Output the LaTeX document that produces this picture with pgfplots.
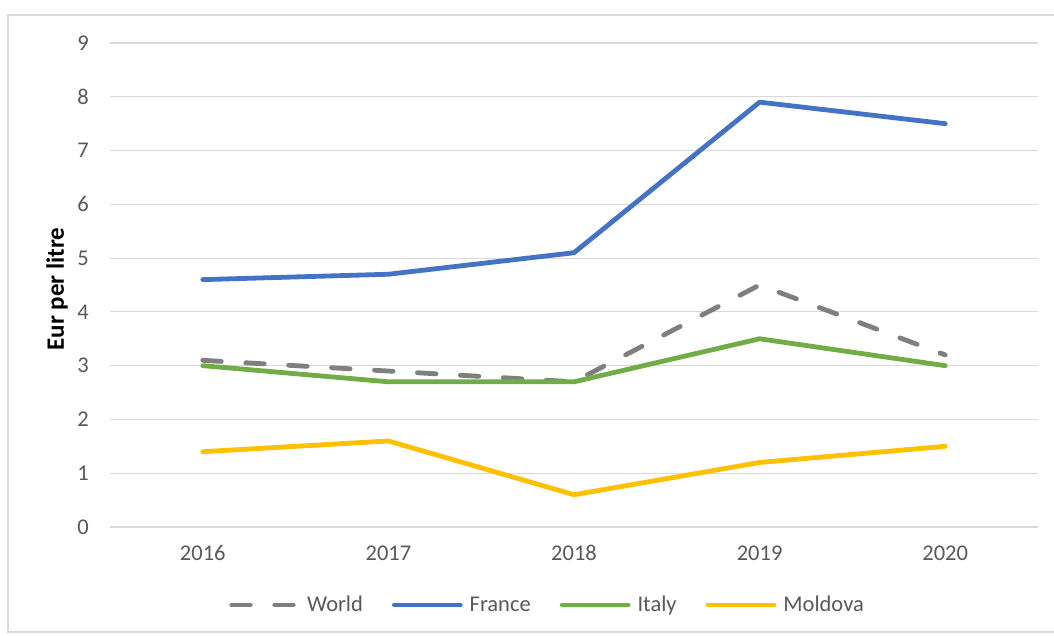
\documentclass[border=0pt]{standalone}
\usepackage{pgfplots}
\pgfplotsset{compat=1.18}
\usepackage{fontspec}
\setmainfont{Carlito}

\definecolor{worldgray}{HTML}{7F7F7F}
\definecolor{franceblue}{HTML}{4472C4}
\definecolor{italygreen}{HTML}{70AD47}
\definecolor{moldovagold}{HTML}{FFC000}
\definecolor{gridgray}{HTML}{D9D9D9}
\definecolor{tickgray}{HTML}{595959}
\definecolor{framegray}{HTML}{D9D9D9}

\begin{document}
\begin{tikzpicture}[x=1pt,y=1pt]
\useasboundingbox (0,0) rectangle (1054,635);
\fill[white] (0,0) rectangle (1054,635);
\draw[framegray, line width=1.2pt] (8,3) rectangle (1070,620);

\begin{axis}[
  at={(110pt,108pt)}, anchor=south west,
  scale only axis, width=928pt, height=484pt,
  xmin=-0.5, xmax=4.5, ymin=0, ymax=9,
  xtick={0,1,2,3,4},
  xticklabels={2016,2017,2018,2019,2020},
  ytick={0,1,...,9},
  ymajorgrids, grid style={gridgray, line width=1.2pt},
  axis line style={draw=none},
  tick style={draw=none},
  /pgf/number format/assume math mode=true,
  ticklabel style={font=\fontsize{22.5}{26}\selectfont, text=tickgray, inner sep=0pt},
  xticklabel style={anchor=center, yshift=-26pt},
  yticklabel style={anchor=east, xshift=-21pt},
  ylabel={\textbf{Eur per litre}},
  ylabel style={font=\fontsize{25}{28}\selectfont, text=black, at={(axis description cs:0,0.492)}, anchor=center, yshift=53pt},
  every axis plot/.append style={line width=4.8pt, line join=round, line cap=round},
  legend columns=4,
  legend style={draw=none, fill=none, at={(axis description cs:0.4705,-0.161)}, anchor=center,
    font=\fontsize{22.5}{26}\selectfont, text=tickgray,
    nodes={inner sep=0pt},
    /tikz/every odd column/.append style={column sep=7pt},
    /tikz/every even column/.append style={column sep=29pt}},
  legend image code/.code={\draw[#1] (0pt,0pt) -- (66pt,0pt);},
]
\addplot[worldgray, dash pattern=on 18.5pt off 24.5pt] coordinates {(0,3.1) (1,2.9) (2,2.7) (3,4.5) (4,3.2)};
\addlegendentry{World}
\addplot[franceblue] coordinates {(0,4.6) (1,4.7) (2,5.1) (3,7.9) (4,7.5)};
\addlegendentry{France}
\addplot[italygreen] coordinates {(0,3.0) (1,2.7) (2,2.7) (3,3.5) (4,3.0)};
\addlegendentry{Italy}
\addplot[moldovagold] coordinates {(0,1.4) (1,1.6) (2,0.6) (3,1.2) (4,1.5)};
\addlegendentry{Moldova}
\end{axis}
\end{tikzpicture}
\end{document}
